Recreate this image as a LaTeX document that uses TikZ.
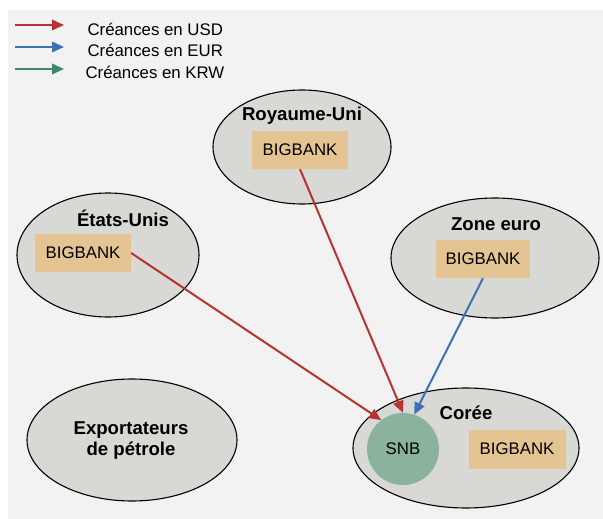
\documentclass[tikz,border=0pt]{standalone}
\usepackage{fontspec}
\setmainfont{Liberation Sans}
\usetikzlibrary{arrows.meta,shapes.geometric}
\definecolor{panel}{RGB}{242,242,242}
\definecolor{region}{RGB}{216,216,212}
\definecolor{bankfill}{RGB}{228,196,146}
\definecolor{snbG}{RGB}{138,178,156}
\definecolor{usdR}{RGB}{185,50,50}
\definecolor{eurB}{RGB}{62,112,182}
\definecolor{krwG}{RGB}{62,136,106}

\begin{document}
\begin{tikzpicture}[x=1pt, y=-1pt, >={Triangle[length=12pt,width=10.5pt]},
  zone/.style={ellipse, draw=black, line width=1.1pt, fill=region, inner sep=0pt},
  bank/.style={rectangle, fill=bankfill, minimum width=96pt, minimum height=38pt,
               font=\fontsize{16.8}{19}\selectfont},
  ztitle/.style={font=\fontsize{18.6}{21}\selectfont\bfseries, align=center},
  legtxt/.style={anchor=west, font=\fontsize{16.8}{19}\selectfont},
  flow/.style={->, line width=2pt}]
  \useasboundingbox (0,0) rectangle (603,519);
  \fill[panel] (8,10) rectangle (603,519);
  % legend
  \coordinate (usdA) at (15,25);  \coordinate (usdB) at (64,25);
  \coordinate (eurA) at (15,47);  \coordinate (eurB) at (64,47);
  \coordinate (krwA) at (15,69);  \coordinate (krwB) at (64,69);
  \draw[flow, usdR] (usdA) -- (usdB);
  \draw[flow, eurB] (eurA) -- (eurB);
  \draw[flow, krwG] (krwA) -- (krwB);
  \node[legtxt] (usdtxt) at (84,29) {Créances en USD};
  \node[legtxt] (eurtxt) at (84,50) {Créances en EUR};
  \node[legtxt] (krwtxt) at (82,72) {Créances en KRW};
  % regions
  \node[zone, minimum width=178pt, minimum height=114pt] (uk) at (302,147) {};
  \node[zone, minimum width=182pt, minimum height=124pt] (us) at (108,255) {};
  \node[zone, minimum width=208pt, minimum height=120pt] (eu) at (495,258) {};
  \node[zone, minimum width=210pt, minimum height=122pt] (oil) at (132,440) {};
  \node[zone, minimum width=226pt, minimum height=120pt] (kr) at (466,448) {};
  \node[ztitle] (uktit) at (302,116) {Royaume-Uni};
  \node[ztitle] (ustit) at (123,218) {États-Unis};
  \node[ztitle] (eutit) at (496,224) {Zone euro};
  \node[ztitle] (oiltit) at (131,441) {Exportateurs\\de pétrole};
  \node[ztitle] (krtit) at (466,413) {Corée};
  % banks
  \node[bank] (ukbank) at (300,150) {BIGBANK};
  \node[bank] (usbank) at (83,253) {BIGBANK};
  \node[bank, minimum width=94pt] (eubank) at (483,259) {BIGBANK};
  \node[bank, minimum width=97pt, minimum height=39pt] (krbank) at (517,449) {BIGBANK};
  \node[circle, fill=snbG, minimum size=72pt, inner sep=0pt,
        font=\fontsize{16.8}{19}\selectfont] (snb) at (403,449) {SNB};
  % claims
  \draw[flow, usdR] (usbank.east) -- (snb.127);
  \draw[flow, usdR] (ukbank.south) -- (snb.north);
  \draw[flow, eurB] (eubank.south) -- (snb.72);
\end{tikzpicture}
\end{document}
